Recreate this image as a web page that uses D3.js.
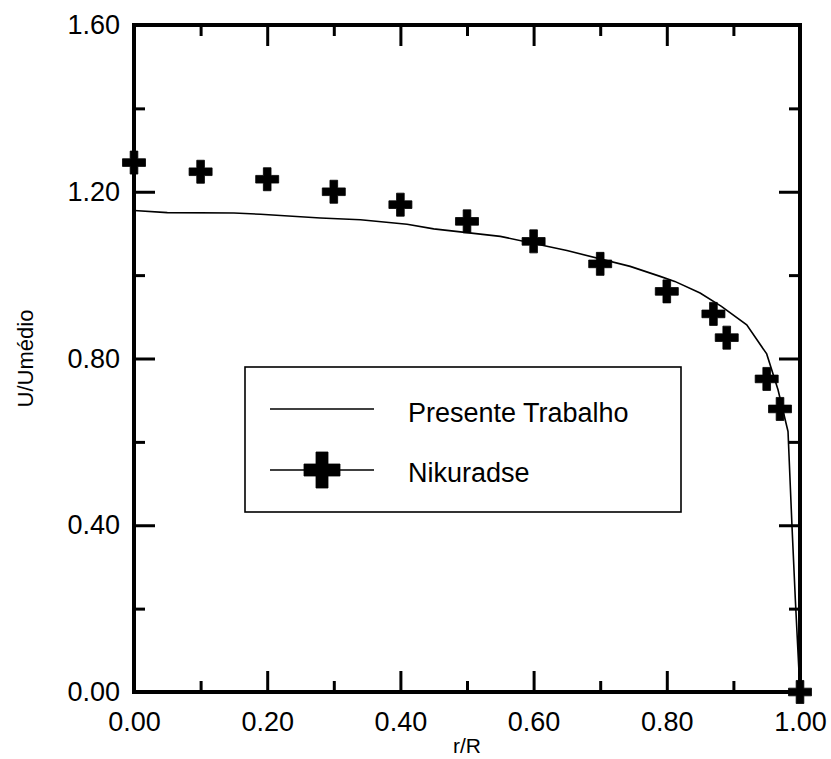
<!DOCTYPE html>
<html>
<head>
<meta charset="utf-8">
<script src="https://cdn.jsdelivr.net/npm/d3@7"></script>
<style>
  body { margin: 0; background: #fff; }
  svg { font-family: "Liberation Sans", Arial, sans-serif; }
</style>
</head>
<body>
<div id="chart"></div>
<script>
// Presente Trabalho (linha)
const curveR = [0, 0.05, 0.15, 0.19, 0.28, 0.34, 0.41, 0.45, 0.55, 0.65, 0.745, 0.79, 0.812, 0.85, 0.882, 0.92, 0.95, 0.967, 0.982, 0.988, 0.993, 1.0];
const curveU = [1.155, 1.150, 1.149, 1.146, 1.137, 1.133, 1.122, 1.111, 1.093, 1.059, 1.021, 0.997, 0.985, 0.957, 0.925, 0.881, 0.811, 0.725, 0.625, 0.397, 0.222, 0.0];

// Nikuradse (pontos)
const nikR = [0, 0.1, 0.2, 0.3, 0.4, 0.5, 0.6, 0.7, 0.8, 0.87, 0.89, 0.95, 0.97, 1.0];
const nikU = [1.270, 1.248, 1.230, 1.200, 1.169, 1.129, 1.081, 1.027, 0.961, 0.907, 0.850, 0.751, 0.679, 0.0];

const xMajor = [0, 0.2, 0.4, 0.6, 0.8, 1.0];
const xMinor = [0.1, 0.3, 0.5, 0.7, 0.9];
const yMajor = [0, 0.4, 0.8, 1.2, 1.6];
const yMinor = [0.2, 0.6, 1.0, 1.4];

const legendLabels = ["Presente Trabalho", "Nikuradse"];

const width = 831, height = 759;
const margin = {top: 25, right: 31, bottom: 67, left: 134};
const iw = width - margin.left - margin.right;
const ih = height - margin.top - margin.bottom;

const x = d3.scaleLinear().domain([0, 1]).range([0, iw]);
const y = d3.scaleLinear().domain([0, 1.6]).range([ih, 0]);

const svg = d3.select("#chart").append("svg")
    .attr("width", width)
    .attr("height", height);

const g = svg.append("g")
    .attr("transform", `translate(${margin.left},${margin.top})`);

const fmt = d3.format(".2f");

// ticks on all four sides, pointing inward
function addAxis(axis, transform, labels) {
    const a = g.append("g")
        .attr("transform", transform)
        .call(axis);
    a.select(".domain").remove();
    a.selectAll(".tick line").attr("stroke", "#000").attr("stroke-width", 3);
    a.selectAll("text").attr("fill", "#000").style("font-size", "27px");
    if (!labels) a.selectAll("text").remove();
    return a;
}

addAxis(d3.axisBottom(x).tickValues(xMajor).tickSize(-21).tickPadding(20).tickFormat(fmt), `translate(0,${ih})`, true);
addAxis(d3.axisBottom(x).tickValues(xMinor).tickSize(-11), `translate(0,${ih})`, false);
addAxis(d3.axisTop(x).tickValues(xMajor).tickSize(-21), "translate(0,0)", false);
addAxis(d3.axisTop(x).tickValues(xMinor).tickSize(-11), "translate(0,0)", false);

addAxis(d3.axisLeft(y).tickValues(yMajor).tickSize(-21).tickPadding(14).tickFormat(fmt), "translate(0,0)", true);
addAxis(d3.axisLeft(y).tickValues(yMinor).tickSize(-11), "translate(0,0)", false);
addAxis(d3.axisRight(y).tickValues(yMajor).tickSize(-21), `translate(${iw},0)`, false);
addAxis(d3.axisRight(y).tickValues(yMinor).tickSize(-11), `translate(${iw},0)`, false);

// frame
g.append("rect")
    .attr("x", 0).attr("y", 0)
    .attr("width", iw).attr("height", ih)
    .attr("fill", "none")
    .attr("stroke", "#000")
    .attr("stroke-width", 4);

// curve
const line = d3.line()
    .x(d => x(d[0]))
    .y(d => y(d[1]));

g.append("path")
    .datum(curveR.map((r, i) => [r, curveU[i]]))
    .attr("fill", "none")
    .attr("stroke", "#000")
    .attr("stroke-width", 1.6)
    .attr("d", line);

// markers
const cross = d3.symbol().type(d3.symbolCross).size(294);

g.selectAll(".nik")
    .data(nikR.map((r, i) => [r, nikU[i]]))
    .join("path")
    .attr("class", "nik")
    .attr("transform", d => `translate(${x(d[0])},${y(d[1])})`)
    .attr("d", cross)
    .attr("fill", "#000")
    .attr("stroke", "#000")
    .attr("stroke-width", 0.8)
    .attr("stroke-linejoin", "round");

// legend
const lg = svg.append("g").attr("transform", "translate(245,367)");
lg.append("rect")
    .attr("width", 436).attr("height", 145)
    .attr("fill", "#fff")
    .attr("stroke", "#000")
    .attr("stroke-width", 1.6);

lg.append("line")
    .attr("x1", 25).attr("x2", 129)
    .attr("y1", 42).attr("y2", 42)
    .attr("stroke", "#000").attr("stroke-width", 1.6);
lg.append("line")
    .attr("x1", 25).attr("x2", 129)
    .attr("y1", 103).attr("y2", 103)
    .attr("stroke", "#000").attr("stroke-width", 1.6);
lg.append("path")
    .attr("transform", "translate(77,103)")
    .attr("d", d3.symbol().type(d3.symbolCross).size(720)())
    .attr("fill", "#000")
    .attr("stroke", "#000")
    .attr("stroke-width", 0.8)
    .attr("stroke-linejoin", "round");

lg.selectAll(".lt")
    .data(legendLabels)
    .join("text")
    .attr("class", "lt")
    .attr("x", 163)
    .attr("y", (d, i) => 55 + i * 60)
    .style("font-size", "27px")
    .text(d => d);

// axis titles
svg.append("text")
    .attr("x", margin.left + x(0.5))
    .attr("y", 753)
    .attr("text-anchor", "middle")
    .style("font-size", "21px")
    .text("r/R");

svg.append("text")
    .attr("transform", `translate(33,${margin.top + y(0.8)}) rotate(-90)`)
    .attr("text-anchor", "middle")
    .style("font-size", "22px")
    .text("U/Umédio");
</script>
</body>
</html>
